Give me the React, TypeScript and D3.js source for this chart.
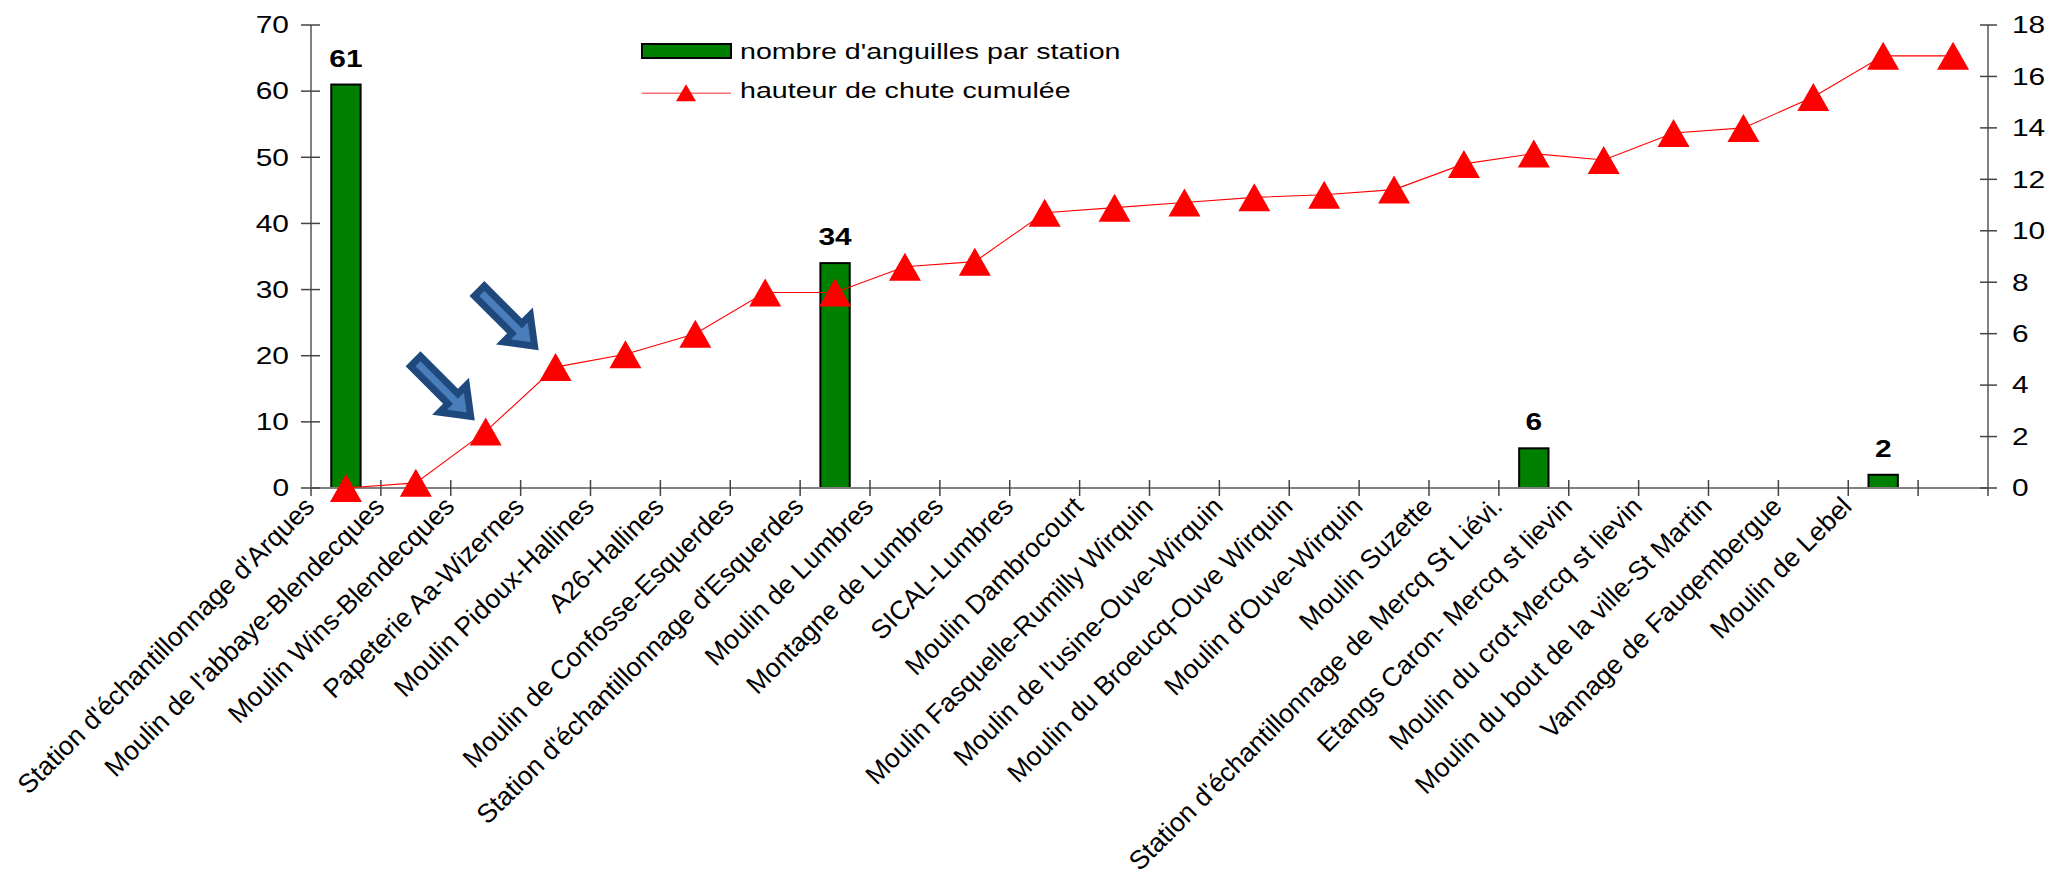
import React from "react";
import * as d3 from "d3";

// ---------- data ----------
const stations: string[] = [
  "Station d'échantillonnage d'Arques",
  "Moulin de l'abbaye-Blendecques",
  "Moulin Wins-Blendecques",
  "Papeterie Aa-Wizernes",
  "Moulin Pidoux-Hallines",
  "A26-Hallines",
  "Moulin de Confosse-Esquerdes",
  "Station d'échantillonnage d'Esquerdes",
  "Moulin de Lumbres",
  "Montagne de Lumbres",
  "SICAL-Lumbres",
  "Moulin Dambrocourt",
  "Moulin Fasquelle-Rumilly Wirquin",
  "Moulin de l'usine-Ouve-Wirquin",
  "Moulin du Broeucq-Ouve Wirquin",
  "Moulin d'Ouve-Wirquin",
  "Moulin Suzette",
  "Station d'échantillonnage de Mercq St Liévi.",
  "Etangs Caron- Mercq st lievin",
  "Moulin du crot-Mercq st lievin",
  "Moulin du bout de la ville-St Martin",
  "Vannage de Fauqembergue",
  "Moulin de Lebel",
  "",
];

const eelCounts: (number | null)[] = [
  61, null, null, null, null, null, null, 34, null, null, null, null,
  null, null, null, null, null, 6, null, null, null, null, 2, null,
];

const cumulativeDrop: number[] = [
  0, 0.2, 2.2, 4.7, 5.2, 6.0, 7.6, 7.6, 8.6, 8.8, 10.7, 10.9,
  11.1, 11.3, 11.4, 11.6, 12.6, 13.0, 12.75, 13.8, 14.0, 15.2, 16.8, 16.8,
];

const leftTicks: number[] = [0, 10, 20, 30, 40, 50, 60, 70];
const rightTicks: number[] = [0, 2, 4, 6, 8, 10, 12, 14, 16, 18];
const seriesNames: string[] = ["nombre d'anguilles par station", "hauteur de chute cumulée"];

// annotation arrows pointing at given stations
const arrowTargets = [
  { index: 2, gap: 15 },
  { index: 3, gap: 21 },
];

// ---------- layout ----------
const W = 2049;
const H = 871;
const X0 = 311;
const X1 = 1988;
const YT = 25;
const YB = 488;
const FONT = "'Liberation Sans', Arial, sans-serif";
const SX = 1.3; // horizontal stretch of the text

const x = d3.scaleBand<number>().domain(d3.range(stations.length)).range([X0, X1]).padding(0);
const yL = d3.scaleLinear().domain([0, 70]).range([YB, YT]);
const yR = d3.scaleLinear().domain([0, 18]).range([YB, YT]);
const bw = x.bandwidth();
const cx = (i: number) => (x(i) as number) + bw / 2;

const triPath = (w: number, h: number) =>
  `M0,${-h / 2}L${w / 2},${h / 2}L${-w / 2},${h / 2}Z`;

const lineGen = d3
  .line<number>()
  .x((_, i) => cx(i))
  .y((d) => yR(d));

function Arrow({ tipX, tipY }: { tipX: number; tipY: number }) {
  const len = 78;
  const sh = 7;
  const hh = 19;
  const hl = 25;
  const pts = [
    [-len, -sh],
    [-hl, -sh],
    [-hl, -hh],
    [0, 0],
    [-hl, hh],
    [-hl, sh],
    [-len, sh],
  ];
  return (
    <g transform={`translate(${tipX},${tipY}) rotate(45)`}>
      <polygon
        points={pts.map((p) => p.join(",")).join(" ")}
        fill="#4A7EBB"
        stroke="#1F497D"
        strokeWidth={7}
        strokeLinejoin="miter"
      />
    </g>
  );
}

export default function App() {
  const barW = bw * 0.42;
  return (
    <svg
      width={W}
      height={H}
      style={{ position: "absolute", left: 0, top: 0, background: "#fff" }}
      fontFamily={FONT}
    >
      <rect x={0} y={0} width={W} height={H} fill="#fff" />

      {/* bars */}
      {eelCounts.map((v, i) =>
        v == null ? null : (
          <g key={"b" + i}>
            <rect
              x={cx(i) - barW / 2}
              y={yL(v)}
              width={barW}
              height={YB - yL(v)}
              fill="#008000"
              stroke="#000"
              strokeWidth={2}
            />
            <text
              transform={`translate(${cx(i)},${yL(v) - 18}) scale(${SX},1)`}
              textAnchor="middle"
              fontSize={23}
              fontWeight="bold"
              fill="#000"
            >
              {v}
            </text>
          </g>
        )
      )}

      {/* x axis */}
      <line x1={X0} x2={X1} y1={YB} y2={YB} stroke="#808080" strokeWidth={2} />
      {d3.range(stations.length + 1).map((i) => {
        const xx = X0 + i * bw;
        return <line key={"xt" + i} x1={xx} x2={xx} y1={YB - 8} y2={YB + 8} stroke="#444" strokeWidth={1.5} />;
      })}

      {/* left axis */}
      <line x1={X0} x2={X0} y1={YT} y2={YB} stroke="#808080" strokeWidth={2} />
      {leftTicks.map((t) => (
        <g key={"lt" + t}>
          <line x1={X0 - 10} x2={X0 + 9} y1={yL(t)} y2={yL(t)} stroke="#444" strokeWidth={1.5} />
          <text
            transform={`translate(${X0 - 22},${yL(t) + 8.3}) scale(${SX},1)`}
            textAnchor="end"
            fontSize={23}
            fill="#000"
          >
            {t}
          </text>
        </g>
      ))}

      {/* right axis */}
      <line x1={X1} x2={X1} y1={YT} y2={YB} stroke="#808080" strokeWidth={2} />
      {rightTicks.map((t) => (
        <g key={"rt" + t}>
          <line x1={X1 - 8} x2={X1 + 9} y1={yR(t)} y2={yR(t)} stroke="#444" strokeWidth={1.5} />
          <text
            transform={`translate(${X1 + 24},${yR(t) + 8.3}) scale(${SX},1)`}
            textAnchor="start"
            fontSize={23}
            fill="#000"
          >
            {t}
          </text>
        </g>
      ))}

      {/* category labels */}
      {stations.map((s, i) =>
        s ? (
          <text
            key={"cl" + i}
            transform={`translate(${(x(i) as number) + 5},${YB + 20}) rotate(-45)`}
            textAnchor="end"
            fontSize={26.5}
            fill="#000"
          >
            {s}
          </text>
        ) : null
      )}

      {/* line series */}
      <path d={lineGen(cumulativeDrop) || ""} fill="none" stroke="#ff0000" strokeWidth={1.1} />
      {cumulativeDrop.map((v, i) => (
        <path
          key={"m" + i}
          d={triPath(32, 28)}
          transform={`translate(${cx(i)},${yR(v)})`}
          fill="#ff0000"
        />
      ))}

      {/* arrows */}
      {arrowTargets.map((a) => (
        <Arrow key={"a" + a.index} tipX={cx(a.index) - a.gap} tipY={yR(cumulativeDrop[a.index]) - a.gap} />
      ))}

      {/* legend */}
      <g>
        <rect x={642} y={44} width={89} height={14} fill="#008000" stroke="#000" strokeWidth={2} />
        <text transform={`translate(740,58.5) scale(${SX},1)`} fontSize={22} fill="#000">
          {seriesNames[0]}
        </text>
        <line x1={642} x2={731} y1={93.3} y2={93.3} stroke="#ff7070" strokeWidth={1.5} />
        <path d={triPath(20, 17)} transform="translate(686,92.7)" fill="#ff0000" />
        <text transform={`translate(740,98) scale(${SX},1)`} fontSize={22} fill="#000">
          {seriesNames[1]}
        </text>
      </g>
    </svg>
  );
}
